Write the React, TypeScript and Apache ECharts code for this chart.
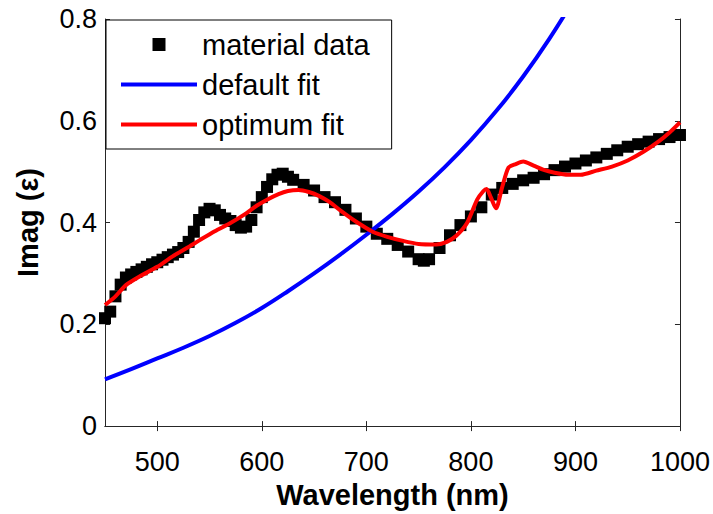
import React, { useEffect, useRef } from "react";
import * as echarts from "echarts";

// ---- data ----
const materialWl = [
  450, 455, 460, 465, 470, 475, 480, 485, 490, 495, 500, 505, 510, 515, 520, 525, 530, 535, 540, 545,
  550, 555, 560, 565, 570, 575, 580, 585, 590, 595, 600, 605, 610, 615, 620, 625, 630, 640, 650, 660,
  670, 680, 690, 700, 710, 720, 730, 740, 750, 755, 760, 770, 780, 790, 800, 810, 820, 830, 840, 850,
  860, 870, 880, 890, 900, 910, 920, 930, 940, 950, 960, 970, 980, 990, 1000,
];
const materialVal = [
  0.212, 0.225, 0.255, 0.278, 0.292, 0.298, 0.303, 0.308, 0.313, 0.318, 0.322, 0.327, 0.332, 0.337, 0.342, 0.35, 0.362, 0.382, 0.405, 0.42,
  0.427, 0.424, 0.415, 0.408, 0.403, 0.395, 0.39, 0.392, 0.405, 0.43, 0.45, 0.47, 0.485, 0.494, 0.496, 0.49, 0.484, 0.474, 0.463, 0.45,
  0.44, 0.425, 0.408, 0.392, 0.378, 0.368, 0.356, 0.343, 0.328, 0.325, 0.328, 0.35, 0.375, 0.395, 0.412, 0.43, 0.455, 0.468, 0.476, 0.483,
  0.488, 0.495, 0.503, 0.51, 0.516, 0.522, 0.528, 0.535, 0.542, 0.549, 0.554, 0.559, 0.564, 0.568, 0.572,
];

const defaultWl = [450, 475, 500, 525, 550, 575, 600, 625, 650, 675, 700, 725, 750, 775, 800, 825, 850, 875, 900];
const defaultVal = [0.092, 0.112, 0.133, 0.154, 0.177, 0.203, 0.232, 0.265, 0.3, 0.337, 0.376, 0.417, 0.461, 0.509, 0.562, 0.621, 0.687, 0.761, 0.843];

const optimumWl = [
  450, 460, 470, 483, 500, 515, 530, 541, 555, 570, 585, 595, 605, 616, 625, 635, 645, 655, 665, 675,
  690, 706, 720, 735, 750, 767, 777, 786, 796, 806, 812, 815, 819, 824, 830, 836, 843, 850, 860, 869,
  880, 893, 905, 920, 935, 950, 965, 980, 990, 1000,
];
const optimumVal = [
  0.238, 0.255, 0.277, 0.294, 0.313, 0.334, 0.352, 0.366, 0.383, 0.399, 0.418, 0.433, 0.445, 0.456, 0.462, 0.464, 0.46, 0.452, 0.44, 0.424,
  0.402, 0.382, 0.372, 0.364, 0.358, 0.357, 0.362, 0.374, 0.398, 0.445, 0.462, 0.466, 0.45, 0.428, 0.47, 0.508, 0.515, 0.52, 0.512, 0.504,
  0.498, 0.494, 0.494, 0.502, 0.51, 0.522, 0.539, 0.56, 0.577, 0.597,
];

const xTicks = [500, 600, 700, 800, 900, 1000];
const seriesNames = ["material data", "default fit", "optimum fit"];

const FONT = "'Liberation Sans', Arial, Helvetica, sans-serif";
const AXIS_COLOR = "#262626";

const zip = (xs: number[], ys: number[]) => xs.map((x, i) => [x, ys[i]]);

export default function App() {
  const ref = useRef<HTMLDivElement>(null);
  useEffect(() => {
    if (!ref.current) return;
    const chart = echarts.init(ref.current, undefined, { renderer: "svg" });
    const axisLine = { show: true, lineStyle: { color: AXIS_COLOR, width: 1 } };
    const axisTick = { show: true, inside: true, length: 5, lineStyle: { color: AXIS_COLOR, width: 1 } };
    chart.setOption({
      animation: false,
      backgroundColor: "#ffffff",
      grid: { left: 105, top: 19, width: 575, height: 417, containLabel: false },
      legend: {
        left: 106,
        top: 20,
        orient: "vertical",
        data: [
          { name: seriesNames[0], icon: "path://M0 0H10V10H0Z" },
          { name: seriesNames[1], icon: "path://M0 0H76V4H0Z" },
          { name: seriesNames[2], icon: "path://M0 0H76V4H0Z" },
        ],
        itemWidth: 76,
        itemHeight: 13,
        itemGap: 11,
        padding: [10, 22, 10, 15],
        borderColor: "#000",
        borderWidth: 1,
        borderRadius: 0,
        backgroundColor: "#fff",
        symbolKeepAspect: true,
        textStyle: { fontFamily: FONT, fontSize: 29, color: "#000" },
        selectedMode: false,
      },
      xAxis: [
        {
          type: "value",
          min: 450,
          max: 1000,
          position: "bottom",
          name: "Wavelength (nm)",
          nameLocation: "middle",
          nameGap: 50,
          nameTextStyle: { fontFamily: FONT, fontSize: 29, fontWeight: "bold", color: "#000" },
          axisLine,
          axisTick: { ...axisTick, customValues: xTicks },
          axisLabel: {
            customValues: xTicks,
            formatter: (v: number) => String(v),
            fontFamily: FONT,
            fontSize: 27,
            color: "#000",
            margin: 22,
          },
          splitLine: { show: false },
        },
        {
          type: "value",
          min: 450,
          max: 1000,
          position: "top",
          axisLine,
          axisTick: { ...axisTick, customValues: xTicks },
          axisLabel: { show: false, customValues: xTicks },
          splitLine: { show: false },
        },
      ],
      yAxis: [
        {
          type: "value",
          min: 0,
          max: 0.8,
          interval: 0.2,
          position: "left",
          name: "Imag (ε)",
          nameLocation: "middle",
          nameGap: 63,
          nameTextStyle: { fontFamily: FONT, fontSize: 29, fontWeight: "bold", color: "#000" },
          axisLine,
          axisTick,
          axisLabel: { fontFamily: FONT, fontSize: 27, color: "#000", margin: 8 },
          splitLine: { show: false },
        },
        {
          type: "value",
          min: 0,
          max: 0.8,
          interval: 0.2,
          position: "right",
          axisLine,
          axisTick,
          axisLabel: { show: false },
          splitLine: { show: false },
        },
      ],
      series: [
        {
          name: seriesNames[0],
          type: "scatter",
          symbol: "rect",
          symbolSize: 12,
          itemStyle: { color: "#000", opacity: 1 },
          data: zip(materialWl, materialVal),
          clip: false,
          z: 2,
        },
        {
          name: seriesNames[1],
          type: "line",
          showSymbol: false,
          symbol: "none",
          smooth: 0.4,
          lineStyle: { color: "#0000ff", width: 4 },
          itemStyle: { color: "#0000ff" },
          data: zip(defaultWl, defaultVal),
          clip: true,
          z: 3,
        },
        {
          name: seriesNames[2],
          type: "line",
          showSymbol: false,
          symbol: "none",
          smooth: 0.25,
          lineStyle: { color: "#ff0000", width: 4 },
          itemStyle: { color: "#ff0000" },
          data: zip(optimumWl, optimumVal),
          clip: true,
          z: 4,
        },
      ],
    });
    return () => chart.dispose();
  }, []);
  return <div ref={ref} style={{ width: 713, height: 514, position: "absolute", left: 0, top: 0 }} />;
}
